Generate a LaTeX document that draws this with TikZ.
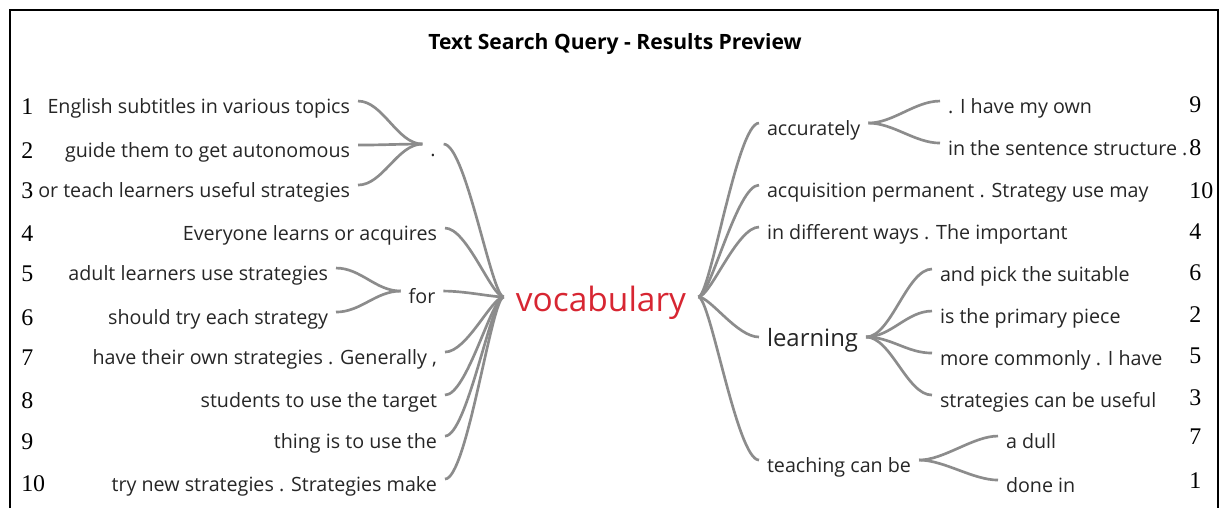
\documentclass[tikz,border=0pt]{standalone}
\usepackage{fontspec}
\setmainfont{Open Sans}
\newfontfamily\rankfont{Liberation Serif}
\definecolor{branchgray}{RGB}{140,140,140}
\definecolor{wordgray}{RGB}{38,38,38}
\definecolor{vocabred}{RGB}{215,38,50}
\tikzset{
  word/.style={font=\fontsize{14}{16}\selectfont,text=wordgray,inner xsep=5.5pt,inner ysep=0pt,text height=19pt,text depth=2pt},
  rank/.style={font=\rankfont\fontsize{17}{19}\selectfont,anchor=base west,inner sep=0pt},
  branch/.style={draw=branchgray,line width=1.9pt},
}
\begin{document}
\begin{tikzpicture}[x=0.025cm,y=-0.025cm]
\useasboundingbox (0,0) rectangle (1220,508);
\draw[line width=1pt] (10,508)--(10,10)--(1218,10)--(1218,508);
\node[font=\bfseries\fontsize{15}{17}\selectfont](title) at (615,44){Text Search Query - Results Preview};
\node[anchor=base,text=vocabred,font=\fontsize{23.8}{26}\selectfont,inner xsep=8.5pt,inner ysep=0pt,text height=23pt,text depth=3pt](vocab) at (601,311){vocabulary};
\node[word,anchor=base east](l1) at (358,113){English subtitles in various topics};
\node[word,anchor=base east](l2) at (358,157){guide them to get autonomous};
\node[word,anchor=base east](l3) at (358,197){or teach learners useful strategies};
\node[word,anchor=base](dot) at (433,156){.};
\node[word,anchor=base east](l4) at (445,240){Everyone learns or acquires};
\node[word,anchor=base east](l5) at (336,280){adult learners use strategies};
\node[word,anchor=base east](l6) at (336,324){should try each strategy};
\node[word,anchor=base](for) at (422,303){for};
\node[word,anchor=base east](l7) at (445,364){have their own strategies . Generally ,};
\node[word,anchor=base east](l8) at (445,407){students to use the target};
\node[word,anchor=base east](l9) at (445,448){thing is to use the};
\node[word,anchor=base east](l10) at (445,491){try new strategies . Strategies make};
\node[word,anchor=base west](acc) at (759,135){accurately};
\node[word,anchor=base west](r9) at (940,113){. I have my own};
\node[word,anchor=base west](r8) at (940,155){in the sentence structure .};
\node[word,anchor=base west](r10) at (759,197){acquisition permanent . Strategy use may};
\node[word,anchor=base west](r4) at (759,239){in different ways . The important};
\node[word,anchor=base west,font=\fontsize{17}{19}\selectfont,text height=15pt,text depth=2.2pt](learn) at (759,346){learning};
\node[word,anchor=base west](r6) at (932,281){and pick the suitable};
\node[word,anchor=base west](r2) at (932,323){is the primary piece};
\node[word,anchor=base west](r5) at (932,365){more commonly . I have};
\node[word,anchor=base west](r3) at (932,407){strategies can be useful};
\node[word,anchor=base west](teach) at (759,472){teaching can be};
\node[word,anchor=base west](r7) at (998,448){a dull};
\node[word,anchor=base west](r1) at (998,492){done in};
\node[rank](ln1) at (21,114){1};
\node[rank](ln2) at (21,158){2};
\node[rank](ln3) at (21,198){3};
\node[rank](ln4) at (21,241){4};
\node[rank](ln5) at (21,281){5};
\node[rank](ln6) at (21,325){6};
\node[rank](ln7) at (21,365){7};
\node[rank](ln8) at (21,408){8};
\node[rank](ln9) at (21,449){9};
\node[rank](ln10) at (21,491){10};
\node[rank](rn9) at (1189,112){9};
\node[rank](rn8) at (1189,155){8};
\node[rank](rn10) at (1189,198){10};
\node[rank](rn4) at (1189,239){4};
\node[rank](rn6) at (1189,280){6};
\node[rank](rn2) at (1189,322){2};
\node[rank](rn5) at (1189,363){5};
\node[rank](rn3) at (1189,405){3};
\node[rank](rn7) at (1189,444){7};
\node[rank](rn1) at (1189,488){1};
\draw[branch] (vocab.west)..controls +(-12,0) and +(22,0)..(dot.east);
\draw[branch] (vocab.west)..controls +(-12,0) and +(22,0)..(l4.east);
\draw[branch] (vocab.west)..controls +(-12,0) and +(22,0)..(for.east);
\draw[branch] (vocab.west)..controls +(-12,0) and +(22,0)..(l7.east);
\draw[branch] (vocab.west)..controls +(-12,0) and +(22,0)..(l8.east);
\draw[branch] (vocab.west)..controls +(-12,0) and +(22,0)..(l9.east);
\draw[branch] (vocab.west)..controls +(-12,0) and +(22,0)..(l10.east);
\draw[branch] (dot.west)..controls +(-25,0) and +(25,0)..(l1.east);
\draw[branch] (dot.west)..controls +(-25,0) and +(25,0)..(l2.east);
\draw[branch] (dot.west)..controls +(-25,0) and +(25,0)..(l3.east);
\draw[branch] (for.west)..controls +(-25,0) and +(25,0)..(l5.east);
\draw[branch] (for.west)..controls +(-25,0) and +(25,0)..(l6.east);
\draw[branch] (vocab.east)..controls +(12,0) and +(-22,0)..(acc.west);
\draw[branch] (vocab.east)..controls +(12,0) and +(-22,0)..(r10.west);
\draw[branch] (vocab.east)..controls +(12,0) and +(-22,0)..(r4.west);
\draw[branch] (vocab.east)..controls +(12,0) and +(-22,0)..(learn.west);
\draw[branch] (vocab.east)..controls +(12,0) and +(-22,0)..(teach.west);
\draw[branch] (acc.east)..controls +(25,0) and +(-25,0)..(r9.west);
\draw[branch] (acc.east)..controls +(25,0) and +(-25,0)..(r8.west);
\draw[branch] (learn.east)..controls +(25,0) and +(-25,0)..(r6.west);
\draw[branch] (learn.east)..controls +(25,0) and +(-25,0)..(r2.west);
\draw[branch] (learn.east)..controls +(25,0) and +(-25,0)..(r5.west);
\draw[branch] (learn.east)..controls +(25,0) and +(-25,0)..(r3.west);
\draw[branch] (teach.east)..controls +(25,0) and +(-25,0)..(r7.west);
\draw[branch] (teach.east)..controls +(25,0) and +(-25,0)..(r1.west);
\end{tikzpicture}
\end{document}
